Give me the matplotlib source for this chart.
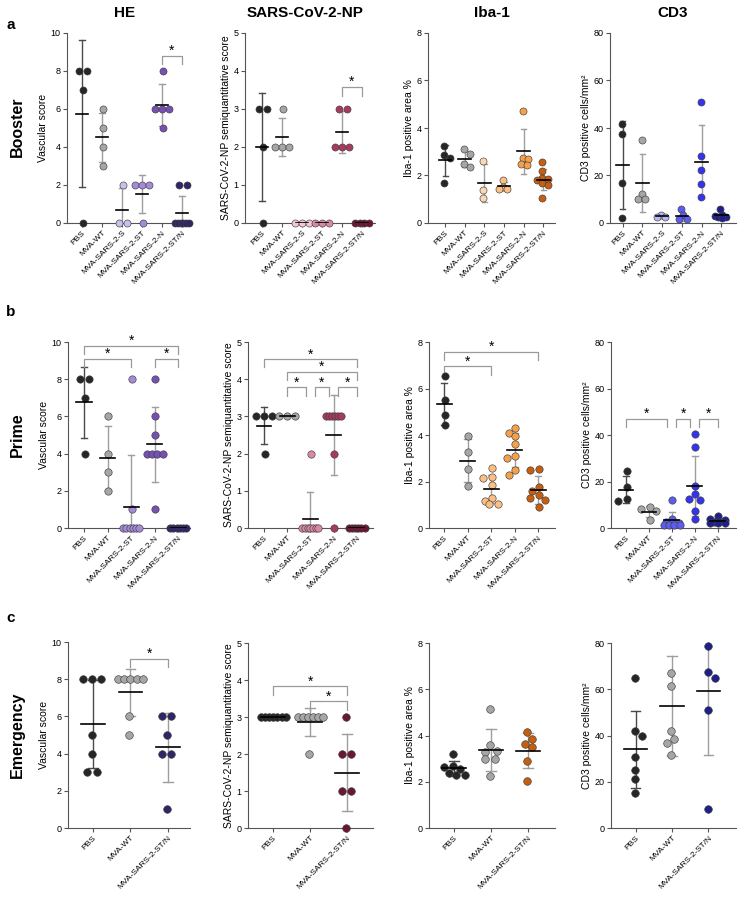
import matplotlib.pyplot as plt
import numpy as np

plt.rcParams['font.family'] = ['Liberation Sans', 'DejaVu Sans']

W, H = 738, 897

groups_booster = ['PBS', 'MVA-WT', 'MVA-SARS-2-S', 'MVA-SARS-2-ST', 'MVA-SARS-2-N', 'MVA-SARS-2-ST/N']
groups_prime = ['PBS', 'MVA-WT', 'MVA-SARS-2-ST', 'MVA-SARS-2-N', 'MVA-SARS-2-ST/N']
groups_emergency = ['PBS', 'MVA-WT', 'MVA-SARS-2-ST/N']

# booster
he_booster = [[8, 8, 7, 0], [6, 5, 4, 3], [2, 0, 0], [2, 2, 2, 0], [8, 6, 6, 6, 5], [2, 2, 0, 0, 0, 0, 0, 0]]
np_booster = [[3, 3, 2, 0], [3, 2, 2, 2], [0, 0, 0], [0, 0, 0], [3, 3, 2, 2, 2], [0, 0, 0, 0]]
iba_booster = [[3.25, 2.85, 2.75, 1.68], [3.1, 2.9, 2.5, 2.35], [2.6, 1.4, 1.05], [1.8, 1.5, 1.45, 1.45],
               [4.7, 2.75, 2.7, 2.5, 2.45], [2.55, 2.2, 1.9, 1.85, 1.8, 1.7, 1.6, 1.05]]
cd3_booster = [[41.5, 37.5, 17, 2], [35, 12, 10, 10], [3.5, 2.5, 2.5], [6, 3.5, 1.5, 1.5],
               [51, 28, 22.5, 16.5, 11], [6, 3.5, 3, 2.5, 2.5, 2]]

# prime
he_prime = [[8, 8, 7, 4], [6, 4, 3, 2], [8, 1, 0, 0, 0, 0, 0, 0], [8, 6, 5, 4, 4, 4, 4, 1], [0, 0, 0, 0, 0, 0]]
np_prime = [[3, 3, 3, 2], [3, 3, 3], [2, 0, 0, 0, 0, 0, 0, 0], [3, 3, 3, 3, 3, 3, 2, 0], [0, 0, 0, 0, 0, 0]]
iba_prime = [[6.55, 5.5, 4.85, 4.45], [3.95, 3.25, 2.55, 1.82], [2.6, 2.2, 2.15, 1.85, 1.3, 1.15, 1.05, 1.05],
             [4.3, 4.1, 3.95, 3.6, 3.1, 3.0, 2.5, 2.3], [2.55, 2.5, 1.75, 1.6, 1.4, 1.3, 1.2, 0.9]]
cd3_prime = [[24.5, 17.5, 12.5, 11.5], [9, 8, 7.5, 3.5], [12, 4, 2.5, 2, 1.5, 1.5, 1.5, 1.5],
             [40.5, 35, 18, 14.5, 12.5, 12, 7.5, 4], [5, 4, 3.5, 3, 2.5, 2, 2, 2]]

# emergency
he_emergency = [[8, 8, 8, 5, 4, 3, 3], [8, 8, 8, 8, 8, 6, 5], [6, 6, 5, 4, 4, 1]]
np_emergency = [[3, 3, 3, 3, 3, 3, 3], [3, 3, 3, 3, 3, 3, 2], [3, 2, 2, 1, 1, 0]]
iba_emergency = [[3.22, 2.67, 2.55, 2.65, 2.38, 2.3, 2.28], [5.15, 3.6, 3.35, 3.3, 2.97, 2.97, 2.27],
                 [4.15, 3.85, 3.62, 3.5, 2.9, 2.03]]
cd3_emergency = [[65, 42, 39.7, 30.8, 24.9, 21.1, 15.3], [67.1, 61.4, 41.9, 38.7, 36.7, 31.5],
                 [78.9, 67.4, 64.9, 50.9, 8.2]]
# mean / SD read off the picture where they don't follow from the visible dots
cd3_emergency_mean_sd = {1: (52.8, 21.5), 2: (59.1, 27.5)}

# significance brackets: (group i, group j, height)
he_booster_sig = [(4, 5, 8.8)]
np_booster_sig = [(4, 5, 3.58)]
he_prime_sig = [(0, 2, 9.1), (0, 4, 9.8), (3, 4, 9.1)]
np_prime_sig = [(0, 4, 4.54), (1, 4, 4.2), (1, 2, 3.78), (2, 3, 3.78), (3, 4, 3.78)]
iba_prime_sig = [(0, 4, 7.57), (0, 2, 6.96)]
cd3_prime_sig = [(0, 2, 47), (2, 3, 47), (3, 4, 47)]
he_emergency_sig = [(1, 2, 9.1)]
np_emergency_sig = [(0, 2, 3.83), (1, 2, 3.42)]

PBS_C, WT_C = '#262626', '#a6a6a6'
pal = {
    'HE': {'S': '#cbbfe9', 'ST': '#a48ad8', 'N': '#7650b4', 'ST/N': '#2f2567'},
    'NP': {'S': '#f4c9d3', 'ST': '#d98aa2', 'N': '#a83a5d', 'ST/N': '#6b1733'},
    'IBA': {'S': '#fdd7b4', 'ST': '#fbbf85', 'N': '#f6a04a', 'ST/N': '#c65d0f'},
    'CD3': {'S': '#b7b7f4', 'ST': '#5c5cf0', 'N': '#3434ee', 'ST/N': '#1f1f8c'},
}


def colors_for(groups, key):
    out = []
    for g in groups:
        if g == 'PBS':
            out.append(PBS_C)
        elif g == 'MVA-WT':
            out.append(WT_C)
        else:
            out.append(pal[key][g.replace('MVA-SARS-2-', '')])
    return out


def swarm(vals, ppu_y, sp, max_half):
    # GraphPad-like spread: equal values side by side, near values nudged, width capped
    placed = []
    offs = [0.0] * len(vals)
    uniq = []
    for v in vals:
        if v not in uniq:
            uniq.append(v)
    shifts = sorted(np.arange(-max_half, max_half + 1e-9, sp / 4), key=lambda s: (abs(s), s))
    for v in uniq:
        idx = [i for i, x in enumerate(vals) if x == v]
        k = len(idx)
        step = sp if k == 1 else min(sp, 2 * max_half / (k - 1))
        base = [(j - (k - 1) / 2) * step for j in range(k)]
        y = v * ppu_y
        best, best_d = base, -1
        for sh in shifts:
            cand = [b + sh for b in base]
            if max(abs(c) for c in cand) > max_half + 1e-6:
                continue
            d = min([np.hypot(c - px, y - py) for c in cand for px, py in placed] or [1e9])
            if d >= 0.8 * sp:
                best = cand
                break
            if d > best_d + 0.5:
                best, best_d = cand, d
        for i, c in zip(idx, best):
            offs[i] = c
            placed.append((c, y))
    return offs


def panel(fig, rect, xlim, groups, data, key, ymax, ystep, ylabel, sig=(), size=26, sp=8.0,
          mean_sd=None, ylsize=7.5):
    left, top, right, bottom = rect
    ax = fig.add_axes([left / W, 1 - bottom / H, (right - left) / W, (bottom - top) / H])
    ppu_y = (bottom - top) / ymax
    ppu_x = (right - left) / (xlim[1] - xlim[0])
    cols = colors_for(groups, key)
    for i, vals in enumerate(data):
        offs = swarm(vals, ppu_y, sp, 0.34 * ppu_x)
        x = [i + o / ppu_x for o in offs]
        if mean_sd and i in mean_sd:
            m, sd = mean_sd[i]
        else:
            m = np.mean(vals)
            sd = np.std(vals, ddof=1) if len(vals) > 1 else 0
        ec = '#4a4a4a' if i == 0 else '#9e9e9e'
        if sd > 0:
            ax.plot([i, i], [m - sd, m + sd], color=ec, lw=1.0, zorder=2)
            for yy in (m - sd, m + sd):
                ax.plot([i - 0.13, i + 0.13], [yy, yy], color=ec, lw=1.0, zorder=2)
        ax.scatter(x, vals, s=size, color=cols[i], edgecolors='#404040', linewidths=0.45,
                   zorder=3, clip_on=False)
        ax.plot([i - 0.32, i + 0.32], [m, m], color='black', lw=1.2, zorder=4)

    drop = 0.045 * ymax
    for (a, b, y) in sig:
        la, rb = a, b
        for (a2, b2, y2) in sig:
            if y2 == y and b2 == a:
                la = a + 0.2
            if y2 == y and a2 == b:
                rb = b - 0.2
        ax.plot([la, la, rb, rb], [y - drop, y, y, y - drop], color='#9a9a9a', lw=0.9, clip_on=False)
        ax.text((la + rb) / 2, y + 0.004 * ymax, '*', ha='center', va='baseline', fontsize=10,
                clip_on=False)

    ax.set_xlim(*xlim)
    ax.set_ylim(0, ymax)
    ax.set_yticks(np.arange(0, ymax + ystep / 2, ystep))
    ax.set_xticks(range(len(groups)))
    ax.set_xticklabels(groups, rotation=45, ha='right', rotation_mode='anchor', fontsize=6)
    for s in ['top', 'right']:
        ax.spines[s].set_visible(False)
    for s in ['left', 'bottom']:
        ax.spines[s].set_color('#555555')
        ax.spines[s].set_linewidth(0.8)
    ax.tick_params(axis='both', length=3, width=0.8, color='#555555', pad=1.5)
    ax.tick_params(axis='y', labelsize=6.5)
    ax.set_ylabel(ylabel, fontsize=ylsize, labelpad=2)
    return ax


fig = plt.figure(figsize=(W / 100, H / 100), dpi=100)

lab_he = 'Vascular score'
lab_np = 'SARS-CoV-2-NP semiquantitative score'
lab_iba = 'Iba-1 positive area %'
lab_cd3 = 'CD3 positive cells/mm²'

# row a
panel(fig, (67, 33, 190, 223), (-0.75, 5.4), groups_booster, he_booster, 'HE', 10, 2, lab_he, he_booster_sig, sp=7.7)
panel(fig, (245, 33, 375, 223), (-0.85, 5.65), groups_booster, np_booster, 'NP', 5, 1, lab_np, np_booster_sig, sp=7.7)
panel(fig, (428, 33, 555, 223), (-0.87, 5.6), groups_booster, iba_booster, 'IBA', 8, 2, lab_iba, sp=7.7)
panel(fig, (610, 33, 736, 223), (-0.65, 5.75), groups_booster, cd3_booster, 'CD3', 80, 20, lab_cd3, sp=7.7)

# row b
panel(fig, (68, 342, 190, 528), (-0.68, 4.5), groups_prime, he_prime, 'HE', 10, 2, lab_he, he_prime_sig, size=28, sp=8.5)
panel(fig, (248, 342, 373, 528), (-0.69, 4.7), groups_prime, np_prime, 'NP', 5, 1, lab_np, np_prime_sig, size=28, sp=8.5)
panel(fig, (429, 342, 555, 528), (-0.64, 4.72), groups_prime, iba_prime, 'IBA', 8, 2, lab_iba, iba_prime_sig, size=28, sp=8.5)
panel(fig, (611, 342, 736, 528), (-0.65, 4.8), groups_prime, cd3_prime, 'CD3', 80, 20, lab_cd3, cd3_prime_sig, size=28, sp=8.5)

# row c
panel(fig, (68, 642, 190, 828), (-0.67, 2.59), groups_emergency, he_emergency, 'HE', 10, 2, lab_he, he_emergency_sig, size=30, sp=9.3)
panel(fig, (248, 643, 373, 828), (-0.68, 2.7), groups_emergency, np_emergency, 'NP', 5, 1, lab_np, np_emergency_sig, size=30, sp=9.3)
panel(fig, (429, 643, 555, 828), (-0.68, 2.73), groups_emergency, iba_emergency, 'IBA', 8, 2, lab_iba, size=30, sp=9.3)
panel(fig, (611, 643, 736, 828), (-0.68, 2.76), groups_emergency, cd3_emergency, 'CD3', 80, 20, lab_cd3, size=30, sp=9.3,
      mean_sd=cd3_emergency_mean_sd)

for x, t in [(125, 'HE'), (305, 'SARS-CoV-2-NP'), (492, 'Iba-1'), (673, 'CD3')]:
    fig.text(x / W, 1 - 13 / H, t, ha='center', va='center', fontsize=11, fontweight='bold')

for y, t in [(127, 'Booster'), (435, 'Prime'), (735, 'Emergency')]:
    fig.text(17 / W, 1 - y / H, t, ha='center', va='center', rotation=90, fontsize=11.5, fontweight='bold')

for y, t in [(25, 'a'), (312, 'b'), (618, 'c')]:
    fig.text(11 / W, 1 - y / H, t, ha='center', va='center', fontsize=11, fontweight='bold')

fig.savefig('out.png', dpi=100, facecolor='white')
